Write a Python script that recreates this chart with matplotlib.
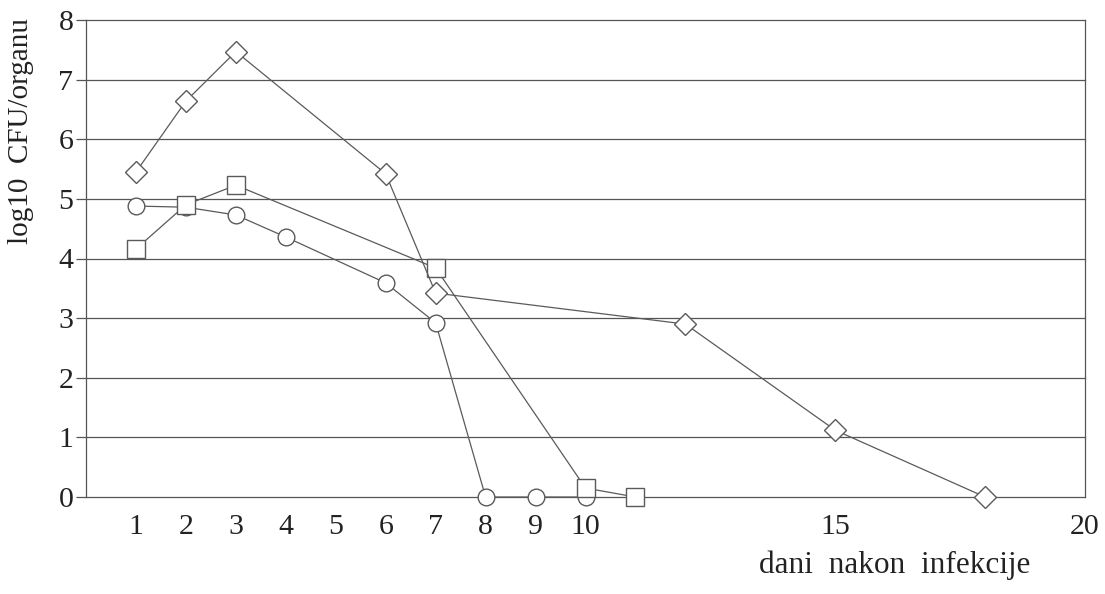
import matplotlib
matplotlib.use("Agg")
import matplotlib.pyplot as plt

# Data
diamond_x = [1, 2, 3, 6, 7, 12, 15, 18]
diamond_y = [5.45, 6.64, 7.47, 5.42, 3.42, 2.90, 1.12, 0.0]

square_x = [1, 2, 3, 7, 10, 11]
square_y = [4.16, 4.90, 5.23, 3.84, 0.15, 0.0]

circle_x = [1, 2, 3, 4, 6, 7, 8, 9, 10]
circle_y = [4.88, 4.86, 4.73, 4.36, 3.59, 2.92, 0.0, 0.0, 0.0]

xticks = [1, 2, 3, 4, 5, 6, 7, 8, 9, 10, 15, 20]
yticks = [0, 1, 2, 3, 4, 5, 6, 7, 8]

plt.rcParams['font.family'] = ['Liberation Serif', 'DejaVu Serif']

fig = plt.figure(figsize=(11.05, 5.94), dpi=100)
ax = fig.add_axes([86/1105, 97/594, 999/1105, 477/594])

line_c = '#5a5a5a'
mk_edge = '#5a5a5a'
grid_c = '#555555'

for y in yticks:
    ax.axhline(y, color=grid_c, lw=0.9, zorder=1, clip_on=False)

ax.plot(circle_x, circle_y, color=line_c, lw=0.9, marker='o', ms=12,
        mfc='white', mec=mk_edge, mew=1.0, zorder=3, clip_on=False)
ax.plot(square_x, square_y, color=line_c, lw=0.9, marker='s', ms=12.5,
        mfc='white', mec=mk_edge, mew=1.0, zorder=4, clip_on=False)
ax.plot(diamond_x, diamond_y, color=line_c, lw=0.9, marker='D', ms=11,
        mfc='white', mec=mk_edge, mew=1.0, zorder=5, clip_on=False)

ax.set_xlim(0, 20)
ax.set_ylim(0, 8)
ax.set_xticks(xticks)
ax.set_xticklabels([str(t) for t in xticks])
ax.set_yticks(yticks)
ax.set_yticklabels([str(t) for t in yticks])

ax.tick_params(axis='x', length=0, pad=12, labelsize=21.5, colors='#222222')
ax.tick_params(axis='y', length=7, width=0.9, pad=2, labelsize=21.5,
               colors='#222222', color=grid_c)

for s in ['top', 'bottom']:
    ax.spines[s].set_visible(False)
for s in ['left', 'right']:
    ax.spines[s].set_color(grid_c)
    ax.spines[s].set_linewidth(0.9)

fig.text(21/1105, 1 - 131/594, 'log10  CFU/organu', rotation=90,
         ha='center', va='center', fontsize=21, color='#222222')
fig.text(1030/1105, 1 - 573/594, 'dani  nakon  infekcije',
         ha='right', va='baseline', fontsize=22.5, color='#222222')

fig.savefig('out.png', dpi=100, facecolor='white')
